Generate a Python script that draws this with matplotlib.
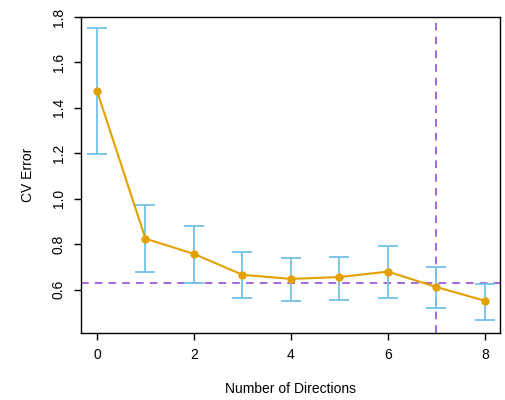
import matplotlib
matplotlib.use("Agg")
import matplotlib.pyplot as plt

plt.rcParams["font.family"] = ["Liberation Sans", "DejaVu Sans"]

directions = [0, 1, 2, 3, 4, 5, 6, 7, 8]
cv_error = [1.475, 0.825, 0.758, 0.666, 0.648, 0.656, 0.680, 0.612, 0.552]
err_upper = [1.752, 0.975, 0.880, 0.766, 0.742, 0.744, 0.792, 0.701, 0.626]
err_lower = [1.198, 0.678, 0.632, 0.563, 0.550, 0.556, 0.566, 0.520, 0.468]
one_se_line = 0.628
chosen = 7

yerr = [[m - lo for m, lo in zip(cv_error, err_lower)],
        [hi - m for m, hi in zip(cv_error, err_upper)]]

fig = plt.figure(figsize=(5.06, 4.0), dpi=100)
ax = fig.add_axes([0.160, 0.1675, 0.828, 0.79])

ax.errorbar(directions, cv_error, yerr=yerr, fmt="none", ecolor="#74C2EA",
            elinewidth=1.3, capsize=7, capthick=1.3, zorder=2)
ax.plot(directions, cv_error, "-o", color="#E3A000", lw=1.5, ms=5, zorder=3)
ax.axhline(one_se_line, color="#8A3FD8", ls=(0, (5, 4)), lw=1.1, zorder=1)
ax.axvline(chosen, color="#8A3FD8", ls=(0, (5, 4)), lw=1.1, zorder=1)

ax.set_xlim(-0.33, 8.31)
ax.set_ylim(0.41, 1.8)
ax.set_xticks([0, 2, 4, 6, 8])
ax.set_yticks([0.6, 0.8, 1.0, 1.2, 1.4, 1.6, 1.8])
ax.set_yticklabels(["0.6", "0.8", "1.0", "1.2", "1.4", "1.6", "1.8"],
                   rotation=90, va="center")
ax.tick_params(direction="out", length=5, width=1, labelsize=10, pad=6)
for s in ax.spines.values():
    s.set_linewidth(1.0)

ax.set_xlabel("Number of Directions", fontsize=10, labelpad=14)
ax.set_ylabel("CV Error", fontsize=10, labelpad=12)

fig.savefig("out.png", dpi=100)
